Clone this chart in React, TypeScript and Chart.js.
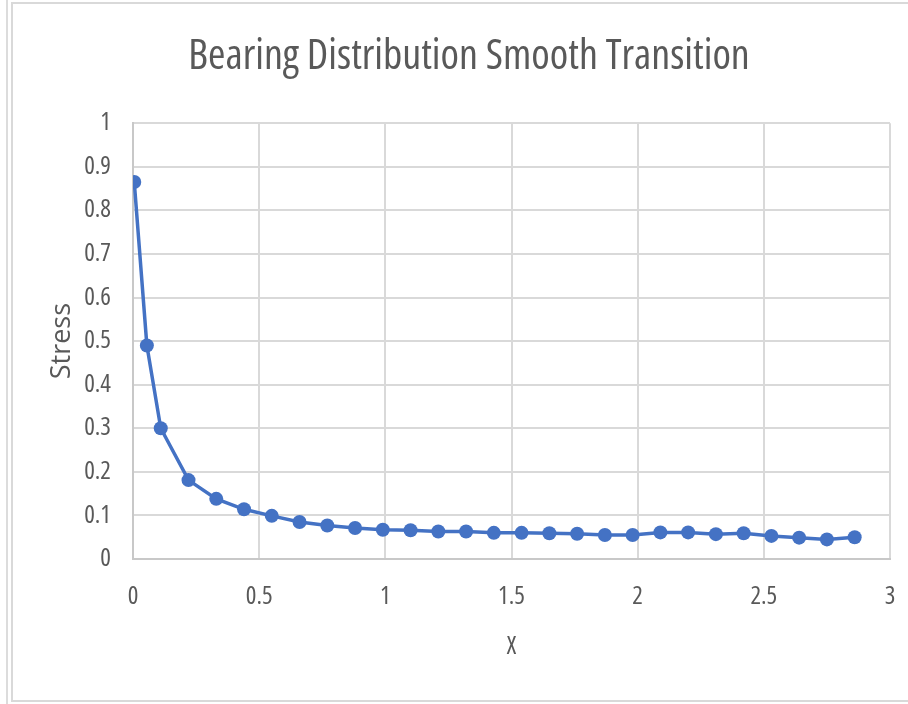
import React, { useEffect, useRef } from "react";
import { Chart, registerables } from "chart.js";

Chart.register(...registerables);

const chartTitle = "Bearing Distribution Smooth Transition";
const xAxisTitle = "X";
const yAxisTitle = "Stress";

const xValues = [
  0.005, 0.055, 0.11, 0.22, 0.33, 0.44, 0.55, 0.66, 0.77, 0.88, 0.99, 1.1, 1.21, 1.32,
  1.43, 1.54, 1.65, 1.76, 1.87, 1.98, 2.09, 2.2, 2.31, 2.42, 2.53, 2.64, 2.75, 2.86,
];
const stressValues = [
  0.865, 0.49, 0.3, 0.181, 0.138, 0.114, 0.099, 0.085, 0.077, 0.071, 0.067, 0.066, 0.063, 0.063,
  0.06, 0.06, 0.059, 0.058, 0.055, 0.055, 0.061, 0.061, 0.057, 0.059, 0.053, 0.049, 0.045, 0.05,
];

const xMin = 0;
const xMax = 3;
const xStep = 0.5;
const yMin = 0;
const yMax = 1;
const yStep = 0.1;

const TEXT = "#595959";
const GRID = "#d9d9d9";
const SERIES = "#4472C4";
const FAMILY = "'Open Sans', 'Noto Sans', sans-serif";
const CONDENSED = "normal condensed" as any;

export default function App() {
  const ref = useRef<HTMLCanvasElement | null>(null);

  useEffect(() => {
    if (!ref.current) return;
    const points = xValues.map((x, i) => ({ x, y: stressValues[i] }));
    const chart = new Chart(ref.current, {
      type: "scatter",
      data: {
        datasets: [
          {
            label: yAxisTitle,
            data: points,
            showLine: true,
            borderColor: SERIES,
            backgroundColor: SERIES,
            borderWidth: 3.5,
            pointRadius: 7,
            pointBorderWidth: 0,
            pointBackgroundColor: SERIES,
            tension: 0,
          },
        ],
      },
      options: {
        responsive: false,
        animation: false,
        layout: { padding: { left: 48, right: 18, top: 0, bottom: 0 } },
        plugins: {
          legend: { display: false },
          tooltip: { enabled: false },
          title: {
            display: true,
            text: chartTitle,
            color: TEXT,
            font: { family: FAMILY, size: 42, weight: CONDENSED, lineHeight: 1.2 },
            padding: { top: 32, bottom: 40.8 },
          },
        },
        scales: {
          x: {
            type: "linear",
            min: xMin,
            max: xMax,
            afterFit: (s: any) => {
              s.height = 145;
            },
            ticks: {
              stepSize: xStep,
              color: TEXT,
              padding: 9,
              font: { family: FAMILY, size: 25, weight: CONDENSED },
              callback: (v: any) => String(Number(Number(v).toFixed(2))),
            },
            grid: { color: GRID, lineWidth: 2, drawTicks: true, tickLength: 14, tickColor: "rgba(0,0,0,0)" },
            border: { color: "#c8c8c8", width: 2 },
            title: {
              display: true,
              text: xAxisTitle,
              color: TEXT,
              font: { family: FAMILY, size: 25, weight: CONDENSED, lineHeight: 1.2 },
              padding: { top: 0, bottom: 42 },
            },
          },
          y: {
            type: "linear",
            min: yMin,
            max: yMax,
            afterFit: (s: any) => {
              s.width = 85;
            },
            ticks: {
              stepSize: yStep,
              color: TEXT,
              padding: 22,
              font: { family: FAMILY, size: 25, weight: CONDENSED },
              callback: (v: any) => String(Number(Number(v).toFixed(2))),
            },
            grid: { color: GRID, lineWidth: 2, drawTicks: false },
            border: { color: "#c8c8c8", width: 2 },
            title: {
              display: true,
              text: yAxisTitle,
              color: TEXT,
              font: { family: FAMILY, size: 27, lineHeight: 1 },
              padding: { top: 0.5, bottom: 0 },
            },
          },
        },
      },
    });
    return () => chart.destroy();
  }, []);

  return (
    <div style={{ position: "fixed", left: 0, top: 0, width: 908, height: 704, background: "#fff", overflow: "hidden" }}>
      <div style={{ position: "absolute", left: 6, top: 0, width: 2, height: 704, background: "#dcdcdc" }} />
      <div
        style={{
          position: "absolute",
          left: 11,
          top: 2,
          width: 920,
          height: 700,
          boxSizing: "border-box",
          border: "2px solid #d9d9d9",
        }}
      />
      <canvas ref={ref} width={908} height={704} style={{ position: "absolute", left: 0, top: 0, width: 908, height: 704 }} />
    </div>
  );
}
